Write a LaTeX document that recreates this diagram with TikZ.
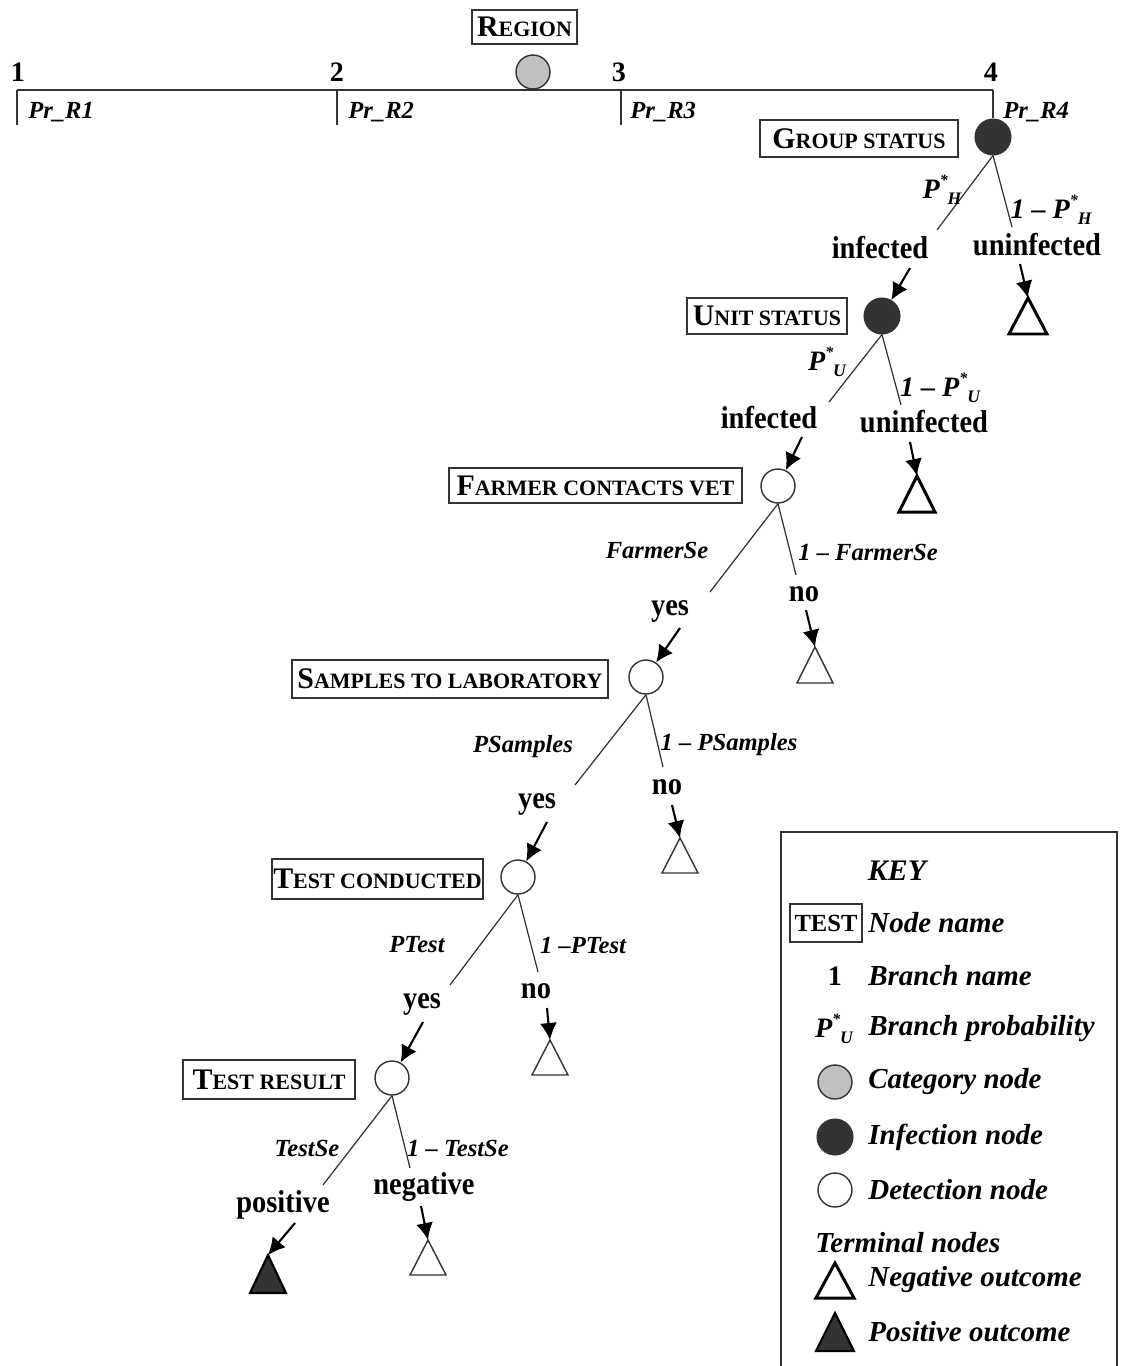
\documentclass[tikz,border=0pt]{standalone}
\usepackage{fontspec}
\setmainfont{Liberation Serif}
\newfontfamily\narrowserif{Liberation Serif}[FakeStretch=0.9]
\usetikzlibrary{arrows.meta}

\definecolor{inkgrey}{HTML}{333333}
\definecolor{catgrey}{HTML}{C0C0C0}
\definecolor{infectfill}{HTML}{333333}

% small-caps style node names: big initial, smaller capitals
\newcommand\capsname[2]{{\fontsize{17}{17}\selectfont #1}{\fontsize{12.5}{12.5}\selectfont #2}}
% starred probability symbol with subscript
\newcommand\pstar[1]{P\raisebox{0.45em}{\fontsize{9}{9}\selectfont *}\raisebox{-0.22em}{\fontsize{10}{10}\selectfont #1}}

\begin{document}
\begin{tikzpicture}[x=0.02cm,y=-0.02cm,
  namebox/.style={draw=inkgrey, line width=1pt, inner sep=0pt, font=\bfseries},
  infnode/.style={circle, draw=inkgrey, fill=infectfill, minimum size=0.72cm, inner sep=0pt, line width=0.6pt},
  detnode/.style={circle, draw=inkgrey, fill=white, minimum size=0.68cm, inner sep=0pt, line width=0.8pt},
  catnode/.style={circle, draw=inkgrey, fill=catgrey, minimum size=0.68cm, inner sep=0pt, line width=0.8pt},
  branch/.style={draw=inkgrey, line width=0.7pt},
  scaleline/.style={draw=inkgrey, line width=1.1pt},
  flow/.style={draw=black, line width=1.2pt, -{Latex[length=0.34cm,width=0.34cm]}},
  termthick/.style={draw=black, fill=white, line width=1.7pt, line join=miter},
  termthin/.style={draw=inkgrey, fill=white, line width=0.8pt},
  termpos/.style={draw=black, fill=infectfill, line width=1.2pt, line join=miter},
  outcome/.style={inner sep=0pt, font=\narrowserif\bfseries\fontsize{18}{18}\selectfont},
  prob/.style={inner sep=0pt, font=\bfseries\itshape\fontsize{14}{14}\selectfont},
  pstarlbl/.style={inner sep=0pt, font=\bfseries\itshape\fontsize{16}{16}\selectfont},
  numlbl/.style={inner sep=0pt, font=\bfseries\fontsize{16}{16}\selectfont},
  keytext/.style={inner sep=0pt, anchor=west, font=\bfseries\itshape\fontsize{16.5}{16.5}\selectfont}
]
\useasboundingbox (0,0) rectangle (1120,1366);

% ---------------- category level: region ----------------
\node[namebox, minimum width=2.1cm, minimum height=0.68cm] (region) at (524.5,27) {\capsname{R}{EGION}};

\coordinate (b1) at (17,90);
\coordinate (b2) at (337,90);
\coordinate (b3) at (621,90);
\coordinate (b4) at (993,90);
\coordinate (b1e) at (17,125);
\coordinate (b2e) at (337,125);
\coordinate (b3e) at (621,125);
\draw[scaleline] (b1) -- (b4);
\draw[scaleline] (b1) -- (b1e);
\draw[scaleline] (b2) -- (b2e);
\draw[scaleline] (b3) -- (b3e);
\node[catnode] (cat) at (533,72) {};

\node[numlbl] (num1) at (18,72) {1};
\node[numlbl] (num2) at (337,72) {2};
\node[numlbl] (num3) at (619,72) {3};
\node[numlbl] (num4) at (991,72) {4};
\node[prob, anchor=west] (pr1) at (28,112) {Pr\_R1};
\node[prob, anchor=west] (pr2) at (348,112) {Pr\_R2};
\node[prob, anchor=west] (pr3) at (630,112) {Pr\_R3};
\node[prob, anchor=west] (pr4) at (1003,112) {Pr\_R4};

% ---------------- group status ----------------
\node[infnode] (group) at (993,137) {};
\draw[scaleline] (b4) -- (group.north);
\node[namebox, minimum width=3.96cm, minimum height=0.74cm] (groupbox) at (859,138.5) {\capsname{G}{ROUP STATUS}};
\coordinate (gL) at (937,230);
\coordinate (gR) at (1012,227);
\draw[branch] (group.south) -- (gL);
\draw[branch] (group.south) -- (gR);
\node[pstarlbl] (gp) at (942,190) {\pstar{H}};
\node[pstarlbl] (gq) at (1051,210) {1 -- \pstar{H}};
\node[outcome] (ginf) at (880,248) {infected};
\node[outcome] (gun) at (1037,245) {uninfected};
\coordinate (gaL) at (910,268);
\coordinate (gaR) at (1020,264);
\coordinate (tG) at (1028,298);
\draw[termthick] (tG) -- ++(-19,36) -- ++(38,0) -- cycle;

% ---------------- unit status ----------------
\node[infnode] (unit) at (882,316) {};
\node[namebox, minimum width=3.2cm, minimum height=0.72cm] (unitbox) at (767,316) {\capsname{U}{NIT STATUS}};
\draw[flow] (gaL) -- (unit);
\draw[flow] (gaR) -- (tG);
\coordinate (uL) at (829,402);
\coordinate (uR) at (901,405);
\draw[branch] (unit.south) -- (uL);
\draw[branch] (unit.south) -- (uR);
\node[pstarlbl] (up) at (827,362) {\pstar{U}};
\node[pstarlbl] (uq) at (940,388) {1 -- \pstar{U}};
\node[outcome] (uinf) at (769,418) {infected};
\node[outcome] (uun) at (924,422) {uninfected};
\coordinate (uaL) at (802,437);
\coordinate (uaR) at (910,442);
\coordinate (tU) at (917,476);
\draw[termthick] (tU) -- ++(-18,36) -- ++(36,0) -- cycle;

% ---------------- farmer contacts vet ----------------
\node[detnode] (farmer) at (778,486) {};
\node[namebox, minimum width=5.86cm, minimum height=0.7cm] (farmerbox) at (595.5,485.5) {\capsname{F}{ARMER CONTACTS VET}};
\draw[flow] (uaL) -- (farmer);
\draw[flow] (uaR) -- (tU);
\coordinate (fL) at (710,592);
\coordinate (fR) at (796,575);
\draw[branch] (farmer.south) -- (fL);
\draw[branch] (farmer.south) -- (fR);
\node[prob] (fp) at (657,550) {FarmerSe};
\node[prob] (fq) at (868,552) {1 -- FarmerSe};
\node[outcome] (fyes) at (670,611) {yes};
\node[outcome] (fno) at (804,594) {no};
\coordinate (faL) at (680,628);
\coordinate (faR) at (806,610);
\coordinate (tF) at (815,647);
\draw[termthin] (tF) -- ++(-18,36) -- ++(36,0) -- cycle;

% ---------------- samples to laboratory ----------------
\node[detnode] (samples) at (646,677) {};
\node[namebox, minimum width=6.32cm, minimum height=0.76cm] (samplesbox) at (450,679) {\capsname{S}{AMPLES TO LABORATORY}};
\draw[flow] (faL) -- (samples);
\draw[flow] (faR) -- (tF);
\coordinate (sL) at (575,785);
\coordinate (sR) at (663,767);
\draw[branch] (samples.south) -- (sL);
\draw[branch] (samples.south) -- (sR);
\node[prob] (sp) at (523,747) {PSamples};
\node[prob] (sq) at (729,745) {1 -- PSamples};
\node[outcome] (syes) at (537,804) {yes};
\node[outcome] (sno) at (667,787) {no};
\coordinate (saL) at (547,822);
\coordinate (saR) at (672,805);
\coordinate (tS) at (680,838);
\draw[termthin] (tS) -- ++(-18,35) -- ++(36,0) -- cycle;

% ---------------- test conducted ----------------
\node[detnode] (conducted) at (518,877) {};
\node[namebox, minimum width=4.22cm, minimum height=0.8cm] (conductedbox) at (377.5,879) {\capsname{T}{EST CONDUCTED}};
\draw[flow] (saL) -- (conducted);
\draw[flow] (saR) -- (tS);
\coordinate (cL) at (450,985);
\coordinate (cR) at (538,972);
\draw[branch] (conducted.south) -- (cL);
\draw[branch] (conducted.south) -- (cR);
\node[prob] (cp) at (417,945) {PTest};
\node[prob] (cq) at (583,945) {1 --PTest};
\node[outcome] (cyes) at (422,1004) {yes};
\node[outcome] (cno) at (536,991) {no};
\coordinate (caL) at (423,1022);
\coordinate (caR) at (547,1008);
\coordinate (tC) at (550,1040);
\draw[termthin] (tC) -- ++(-18,35) -- ++(36,0) -- cycle;

% ---------------- test result ----------------
\node[detnode] (result) at (392,1078) {};
\node[namebox, minimum width=3.44cm, minimum height=0.78cm] (resultbox) at (269,1079.5) {\capsname{T}{EST RESULT}};
\draw[flow] (caL) -- (result);
\draw[flow] (caR) -- (tC);
\coordinate (rL) at (323,1185);
\coordinate (rR) at (410,1168);
\draw[branch] (result.south) -- (rL);
\draw[branch] (result.south) -- (rR);
\node[prob] (rp) at (307,1148) {TestSe};
\node[prob] (rq) at (458,1148) {1 -- TestSe};
\node[outcome] (rpos) at (283,1205) {positive};
\node[outcome] (rneg) at (424,1187) {negative};
\coordinate (raL) at (295,1223);
\coordinate (raR) at (421,1206);
\coordinate (tPos) at (268,1255);
\coordinate (tNeg) at (428,1240);
\draw[termpos] (tPos) -- ++(-18,38) -- ++(36,0) -- cycle;
\draw[termthin] (tNeg) -- ++(-18,35) -- ++(36,0) -- cycle;
\draw[flow] (raL) -- (tPos);
\draw[flow] (raR) -- (tNeg);

% ---------------- key ----------------
\coordinate (k1) at (781,1366);
\coordinate (k2) at (781,832);
\coordinate (k3) at (1117,832);
\coordinate (k4) at (1117,1366);
\draw[inkgrey, line width=1pt] (k1) -- (k2) -- (k3) -- (k4);
\node[inner sep=0pt, font=\bfseries\itshape\fontsize{17}{17}\selectfont] (keytitle) at (897,871) {KEY};
\node[namebox, minimum width=1.44cm, minimum height=0.76cm, font=\bfseries\fontsize{14}{14}\selectfont] (keybox) at (826,923) {TEST};
\node[keytext] (keyname) at (868,923) {Node name};
\node[numlbl] (keynum) at (835,976) {1};
\node[keytext] (keybranch) at (868,976) {Branch name};
\node[pstarlbl] (keyp) at (834,1029) {\pstar{U}};
\node[keytext] (keyprob) at (868,1029) {Branch probability};
\node[catnode] (keycat) at (835,1082) {};
\node[keytext] (keycattxt) at (868,1082) {Category node};
\node[infnode] (keyinf) at (835,1137) {};
\node[keytext] (keyinftxt) at (868,1137) {Infection node};
\node[detnode] (keydet) at (835,1190) {};
\node[keytext] (keydettxt) at (868,1190) {Detection node};
\node[keytext] (keyterm) at (815,1243) {Terminal nodes};
\coordinate (kNeg) at (835,1263);
\coordinate (kPos) at (835,1313);
\draw[termthick] (kNeg) -- ++(-19,35) -- ++(38,0) -- cycle;
\draw[termpos] (kPos) -- ++(-19,38) -- ++(38,0) -- cycle;
\node[keytext] (keynegtxt) at (868,1280) {Negative outcome};
\node[keytext] (keypostxt) at (868,1332) {Positive outcome};
\end{tikzpicture}
\end{document}
